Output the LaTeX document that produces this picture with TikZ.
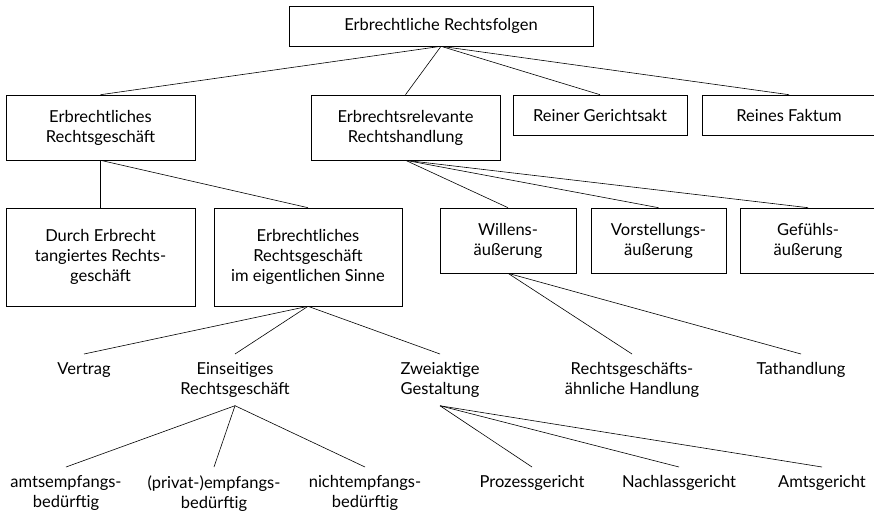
\documentclass[tikz,border=0pt]{standalone}
\usepackage{fontspec}
\setmainfont{Lato}

\begin{document}
\begin{tikzpicture}[x=1pt,y=-1pt,line width=0.6pt,
    font=\fontsize{16.5}{20}\selectfont,
    box/.style={draw,align=center,inner sep=0pt},
    leaf/.style={align=center,anchor=north,inner xsep=0pt,inner ysep=8pt}]
    \clip (0,0) rectangle (874,513);

    % Rechtsfolgen
    \node[box,minimum width=304,minimum height=40] (folgen) at (441,26) {Erbrechtliche Rechtsfolgen};

    % first level
    \node[box,minimum width=189,minimum height=65] (geschaeft) at (100.5,127.5) {Erbrechtliches\\Rechtsgeschäft};
    \node[box,minimum width=189,minimum height=65] (handlung) at (405.5,127.5) {Erbrechtsrelevante\\Rechtshandlung};
    \node[box,minimum width=174,minimum height=40] (gericht) at (600,115) {Reiner Gerichtsakt};
    \node[box,minimum width=174,minimum height=40] (faktum) at (789,115) {Reines Faktum};
    \foreach \n in {geschaeft,handlung,gericht,faktum} {
        \draw (folgen.south) -- (\n.north);
    }

    % second level
    \node[box,minimum width=189,minimum height=98] (tangiert) at (100.5,257) {Durch Erbrecht\\tangiertes Rechts-\\geschäft};
    \node[box,minimum width=188,minimum height=98] (eigentlich) at (308,257) {Erbrechtliches\\Rechtsgeschäft\\im eigentlichen Sinne};
    \node[box,minimum width=136,minimum height=65] (willen) at (508,240.5) {Willens-\\äußerung};
    \node[box,minimum width=135,minimum height=65] (vorstellung) at (658.5,240.5) {Vorstellungs-\\äußerung};
    \node[box,minimum width=136,minimum height=65] (gefuehl) at (808,240.5) {Gefühls-\\äußerung};
    \draw (geschaeft.south) -- (tangiert.north);
    \draw (geschaeft.south) -- (eigentlich.north);
    \foreach \n in {willen,vorstellung,gefuehl} {
        \draw (handlung.south) -- (\n.north);
    }

    % third level
    \node[leaf] (vertrag) at (84,354) {Vertrag};
    \node[leaf] (einseitig) at (235,354) {Einseitiges\\Rechtsgeschäft};
    \node[leaf] (zweiaktig) at (440,354) {Zweiaktige\\Gestaltung};
    \node[leaf] (aehnlich) at (632,354) {Rechtsgeschäfts-\\ähnliche Handlung};
    \node[leaf] (tat) at (801,354) {Tathandlung};
    \foreach \n in {vertrag,einseitig,zweiaktig} {
        \draw (eigentlich.south) -- (\n.north);
    }
    \draw (willen.south) -- (aehnlich.north);
    \draw (willen.south) -- (tat.north);

    % fourth level
    \node[leaf] (amts) at (66,467) {amtsempfangs-\\bedürftig};
    \node[leaf] (privat) at (214,467) {(privat-)empfangs-\\bedürftig};
    \node[leaf] (nicht) at (365,467) {nichtempfangs-\\bedürftig};
    \node[leaf] (prozess) at (532,467) {Prozessgericht};
    \node[leaf] (nachlass) at (679,467) {Nachlassgericht};
    \node[leaf] (amtsger) at (822,467) {Amtsgericht};
    \foreach \n in {amts,privat,nicht} {
        \draw (einseitig.south) -- (\n.north);
    }
    \foreach \n in {prozess,nachlass,amtsger} {
        \draw (zweiaktig.south) -- (\n.north);
    }
\end{tikzpicture}
\end{document}
